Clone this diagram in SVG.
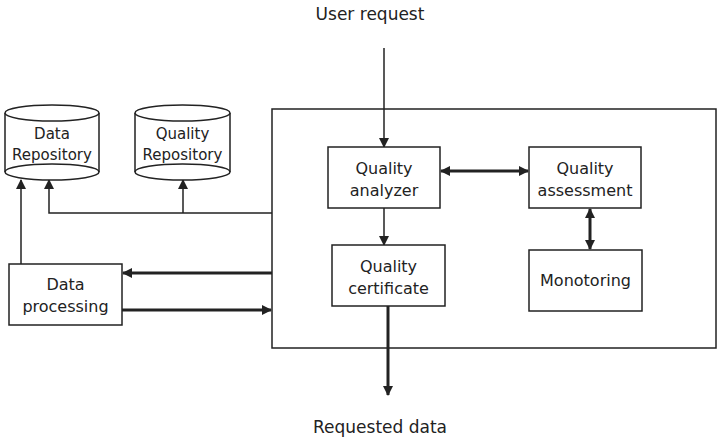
<svg xmlns="http://www.w3.org/2000/svg" width="718" height="444" viewBox="0 0 718 444">
<defs>
<style>
.box{fill:#fff;stroke:#222;stroke-width:1.5}
.t{font-family:"DejaVu Sans","Liberation Sans",sans-serif;font-size:16px;fill:#222;text-anchor:middle}
.tl{font-family:"DejaVu Sans","Liberation Sans",sans-serif;font-size:17px;fill:#222;text-anchor:middle}
.ts{font-family:"DejaVu Sans","Liberation Sans",sans-serif;font-size:15px;fill:#222;text-anchor:middle}
.thin{stroke:#222;stroke-width:1.5;fill:none}
.thick{stroke:#222;stroke-width:3;fill:none}
</style>
<marker id="ah" markerWidth="10" markerHeight="10" refX="9" refY="5" orient="auto-start-reverse" markerUnits="userSpaceOnUse" viewBox="0 0 10 10">
<path d="M0,0 L10,5 L0,10 z" fill="#222"/>
</marker>
</defs>
<rect width="718" height="444" fill="#fff"/>
<g id="system">
<rect x="272" y="109" width="444" height="239" fill="none" stroke="#222" stroke-width="1.5"/>
</g>
<g id="connectors">
<line class="thin" x1="384" y1="48" x2="384" y2="147" marker-end="url(#ah)"/>
<line class="thin" x1="384" y1="208" x2="384" y2="245" marker-end="url(#ah)"/>
<line class="thick" x1="441" y1="171" x2="528" y2="171" marker-start="url(#ah)" marker-end="url(#ah)"/>
<line class="thick" x1="590" y1="209" x2="590" y2="249" marker-start="url(#ah)" marker-end="url(#ah)"/>
<line class="thick" x1="388" y1="306" x2="388" y2="395" marker-end="url(#ah)"/>
<line class="thick" x1="272" y1="273" x2="123" y2="273" marker-end="url(#ah)"/>
<line class="thick" x1="122" y1="310" x2="271" y2="310" marker-end="url(#ah)"/>
<polyline class="thin" points="272,213 49,213 49,180" marker-end="url(#ah)"/>
<line class="thin" x1="183" y1="213" x2="183" y2="180" marker-end="url(#ah)"/>
<line class="thin" x1="21" y1="264" x2="21" y2="180" marker-end="url(#ah)"/>
</g>
<g id="data-repository">
<path class="box" d="M5,113 L5,172 A47,8 0 0 0 99,172 L99,113"/>
<ellipse class="box" cx="52" cy="113" rx="47" ry="8"/>
<path class="thin" d="M5,172 A47,8 0 0 1 99,172"/>
<text class="ts" x="52" y="139">Data</text>
<text class="ts" x="52" y="160">Repository</text>
</g>
<g id="quality-repository">
<path class="box" d="M135,113 L135,172 A47.5,8 0 0 0 230,172 L230,113"/>
<ellipse class="box" cx="182.5" cy="113" rx="47.5" ry="8"/>
<path class="thin" d="M135,172 A47.5,8 0 0 1 230,172"/>
<text class="ts" x="182.5" y="139">Quality</text>
<text class="ts" x="182.5" y="160">Repository</text>
</g>
<g id="quality-analyzer">
<rect class="box" x="328" y="147" width="112" height="61"/>
<text class="t" x="384" y="174">Quality</text>
<text class="t" x="384" y="196">analyzer</text>
</g>
<g id="quality-assessment">
<rect class="box" x="529" y="147" width="112" height="61"/>
<text class="t" x="585" y="174">Quality</text>
<text class="t" x="585" y="196">assessment</text>
</g>
<g id="quality-certificate">
<rect class="box" x="332" y="245" width="113" height="61"/>
<text class="t" x="388.5" y="272">Quality</text>
<text class="t" x="388.5" y="294">certificate</text>
</g>
<g id="monitoring">
<rect class="box" x="529" y="250" width="113" height="61"/>
<text class="t" x="585.5" y="286">Monotoring</text>
</g>
<g id="data-processing">
<rect class="box" x="9" y="264" width="113" height="61"/>
<text class="t" x="65.5" y="290">Data</text>
<text class="t" x="65.5" y="312">processing</text>
</g>
<g id="labels">
<text class="tl" x="370" y="20">User request</text>
<text class="tl" x="380" y="433">Requested data</text>
</g>
</svg>
